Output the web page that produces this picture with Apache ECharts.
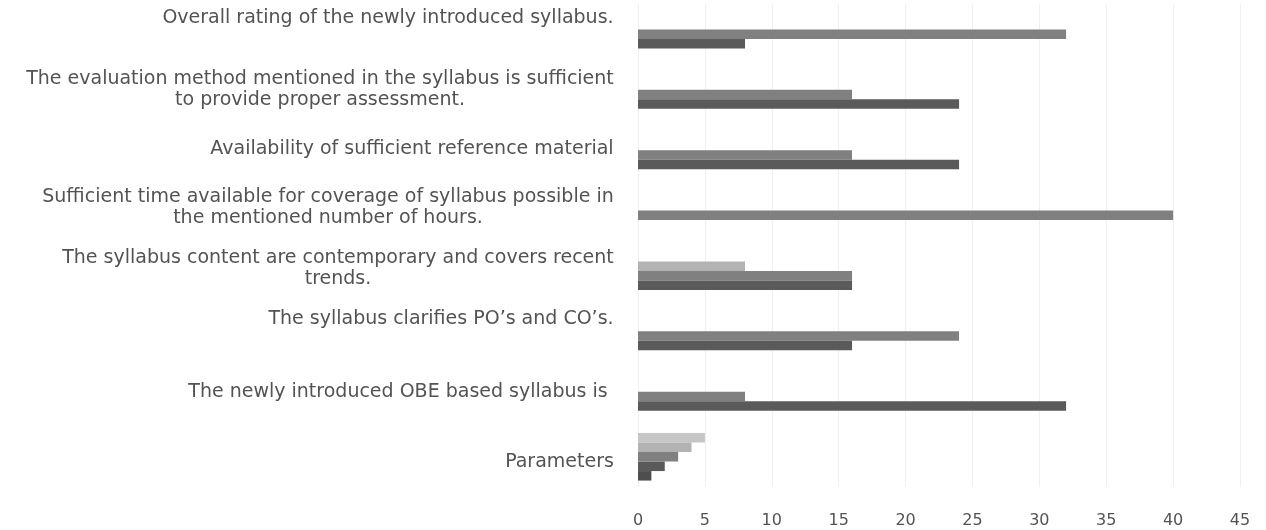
<!DOCTYPE html>
<html>
<head>
<meta charset="utf-8">
<script src="https://cdn.jsdelivr.net/npm/echarts@6/dist/echarts.min.js"></script>
<style>
html,body{margin:0;padding:0;background:#fff;}
#chart{width:1266px;height:530px;}
</style>
</head>
<body>
<div id="chart"></div>
<script>
// Categories listed bottom to top (ECharts category y-axis starts at the bottom)
const categories = [
  'Parameters',
  'The newly introduced OBE based syllabus is ',
  'The syllabus clarifies PO\u2019s and CO\u2019s.',
  'The syllabus content are contemporary and covers recent\ntrends.',
  'Sufficient time available for coverage of syllabus possible in\nthe mentioned number of hours.',
  'Availability of sufficient reference material',
  'The evaluation method mentioned in the syllabus is sufficient\nto provide proper assessment.',
  'Overall rating of the newly introduced syllabus.'
];
const series1 = [1, null, null, null, null, null, null, null];
const series2 = [2, 32, 16, 16, null, 24, 24, 8];
const series3 = [3, 8, 24, 16, 40, 16, 16, 32];
const series4 = [4, null, null, 8, null, null, null, null];
const series5 = [5, null, null, null, null, null, null, null];
const xTicks = [0, 5, 10, 15, 20, 25, 30, 35, 40, 45];

// label vertical nudges (px, positive = up), matching the scanned layout
const labelShift = [-5, 4, 17, 7, 8, 6, 5, 16];

const FONT = '"DejaVu Sans", "Open Sans", sans-serif';
const FS = 19;
const LH = 21;
const COLOR = '#535353';
const cv = document.createElement('canvas').getContext('2d');
cv.font = FS + 'px "DejaVu Sans"';

const rich = {};
const labelMap = {};
categories.forEach(function (c, i) {
  const lines = c.split('\n');
  const w = Math.ceil(Math.max.apply(null, lines.map(function (l) { return cv.measureText(l).width; })));
  const s = labelShift[i];
  rich['a' + i] = { width: w, align: 'center', fontSize: FS, fontFamily: FONT, color: COLOR, lineHeight: LH, height: LH };
  const sp = Math.max(1, Math.abs(2 * s));
  rich['sp' + i] = { width: w, fontSize: 1, lineHeight: sp, height: sp, color: 'rgba(0,0,0,0)' };
  const body = lines.map(function (l) { return '{a' + i + '|' + l + '}'; });
  const spacer = '{sp' + i + '| }';
  if (s > 0) body.push(spacer);
  else if (s < 0) body.unshift(spacer);
  labelMap[c] = body.join('\n');
});

// ECharts draws the first series at the top of each group; series5 sits on top in the source
const colors = { s1: '#4e4e4e', s2: '#5a5a5a', s3: '#808080', s4: '#b3b3b3', s5: '#c6c6c6' };
const ordered = [
  ['S5', series5, colors.s5],
  ['S4', series4, colors.s4],
  ['S3', series3, colors.s3],
  ['S2', series2, colors.s2],
  ['S1', series1, colors.s1]
];

const chart = echarts.init(document.getElementById('chart'), null, { renderer: 'canvas' });
chart.setOption({
  animation: false,
  backgroundColor: '#ffffff',
  grid: { left: 638, right: 26, top: 4, bottom: 43 },
  xAxis: {
    type: 'value',
    min: xTicks[0],
    max: xTicks[xTicks.length - 1],
    interval: 5,
    axisLine: { show: false },
    axisTick: { show: false },
    splitLine: { show: true, lineStyle: { color: '#f0f0f0', width: 1 } },
    axisLabel: { color: COLOR, fontSize: 16, fontFamily: FONT, margin: 26 }
  },
  yAxis: {
    type: 'category',
    data: categories,
    axisLine: { show: false },
    axisTick: { show: false },
    axisLabel: {
      color: COLOR, fontSize: FS, fontFamily: FONT, margin: 24, lineHeight: LH,
      align: 'right',
      formatter: function (v) { return labelMap[v]; },
      rich: rich
    }
  },
  series: ordered.map(function (o) {
    return {
      type: 'bar',
      name: o[0],
      data: o[1],
      barWidth: 9.5,
      barGap: '0%',
      itemStyle: { color: o[2] }
    };
  })
});
</script>
</body>
</html>
